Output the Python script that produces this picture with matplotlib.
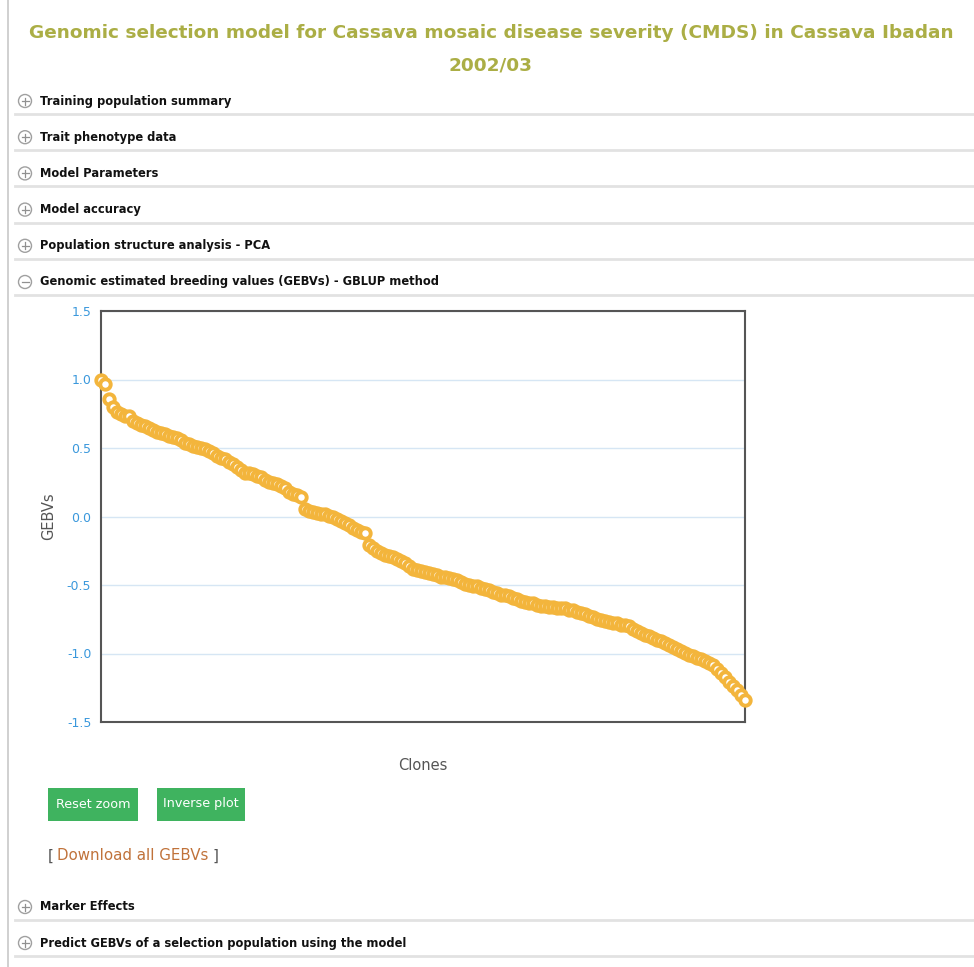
import matplotlib.pyplot as plt
from matplotlib.patches import Circle, Rectangle

# GEBVs per clone, sorted high to low
gebvs = [
    1.00, 0.97, 0.86, 0.80, 0.765, 0.75, 0.735, 0.73, 0.70, 0.685,
    0.67, 0.66, 0.645, 0.63, 0.615, 0.61, 0.60, 0.59, 0.58, 0.57,
    0.555, 0.54, 0.53, 0.515, 0.505, 0.50, 0.49, 0.475, 0.46, 0.445,
    0.43, 0.42, 0.40, 0.38, 0.36, 0.34, 0.32, 0.315, 0.31, 0.295,
    0.285, 0.27, 0.255, 0.245, 0.235, 0.225, 0.205, 0.18, 0.165, 0.155,
    0.14, 0.055, 0.04, 0.03, 0.025, 0.02, 0.015, 0.005, -0.005, -0.015,
    -0.035, -0.05, -0.065, -0.085, -0.10, -0.11, -0.12, -0.21, -0.23, -0.25,
    -0.265, -0.28, -0.29, -0.295, -0.31, -0.325, -0.34, -0.36, -0.38, -0.39,
    -0.40, -0.405, -0.41, -0.42, -0.43, -0.44, -0.445, -0.45, -0.455, -0.465,
    -0.48, -0.49, -0.50, -0.505, -0.51, -0.52, -0.53, -0.54, -0.55, -0.56,
    -0.57, -0.575, -0.58, -0.595, -0.605, -0.615, -0.625, -0.63, -0.635, -0.645,
    -0.65, -0.655, -0.66, -0.66, -0.665, -0.665, -0.67, -0.68, -0.685, -0.695,
    -0.705, -0.715, -0.725, -0.735, -0.745, -0.755, -0.765, -0.77, -0.775, -0.78,
    -0.79, -0.795, -0.80, -0.82, -0.835, -0.85, -0.865, -0.875, -0.89, -0.90,
    -0.91, -0.925, -0.94, -0.955, -0.965, -0.98, -0.995, -1.01, -1.02, -1.03,
    -1.04, -1.055, -1.07, -1.085, -1.11, -1.14, -1.175, -1.21, -1.24, -1.27,
    -1.30, -1.34,
]
y_ticks = [1.5, 1.0, 0.5, 0.0, -0.5, -1.0, -1.5]

title_line1 = "Genomic selection model for Cassava mosaic disease severity (CMDS) in Cassava Ibadan"
title_line2 = "2002/03"
sections_top = [
    "Training population summary",
    "Trait phenotype data",
    "Model Parameters",
    "Model accuracy",
    "Population structure analysis - PCA",
    "Genomic estimated breeding values (GEBVs) - GBLUP method",
]
sections_bottom = ["Marker Effects", "Predict GEBVs of a selection population using the model"]
buttons = ["Reset zoom", "Inverse plot"]

W, H = 974, 967
fig = plt.figure(figsize=(W / 100, H / 100), dpi=100)
fig.patch.set_facecolor("white")

# page layer in pixel coordinates
page = fig.add_axes([0, 0, 1, 1])
page.set_xlim(0, W)
page.set_ylim(H, 0)
page.axis("off")

page.plot([8, 8], [0, H], color="#c8c8c8", lw=1.2)

page.text(491, 33, title_line1, ha="center", va="center", fontsize=13.3,
          fontweight="bold", color="#abae45")
page.text(491, 65, title_line2, ha="center", va="center", fontsize=13.3,
          fontweight="bold", color="#abae45")


def section(y, label, expanded=False):
    page.add_patch(Circle((25, y), 6.5, facecolor="white", edgecolor="#a0a0a0", lw=1.0))
    page.plot([21.5, 28.5], [y, y], color="#909090", lw=0.9)
    if not expanded:
        page.plot([25, 25], [y - 3.5, y + 3.5], color="#909090", lw=0.9)
    page.text(40, y, label, ha="left", va="center", fontsize=8.3,
              fontweight="bold", color="#111111")
    page.plot([15, W], [y + 13, y + 13], color="#e2e2e2", lw=2)


for k, label in enumerate(sections_top):
    section(101 + k * 36.2, label, expanded=(k == len(sections_top) - 1))
for k, label in enumerate(sections_bottom):
    section(907 + k * 36, label)

# buttons
btn_x = [48, 157]
btn_w = [90, 88]
for bx, bw, label in zip(btn_x, btn_w, buttons):
    page.add_patch(Rectangle((bx, 788), bw, 33, facecolor="#3fb35f", edgecolor="none"))
    page.text(bx + bw / 2, 804, label, ha="center", va="center", fontsize=9.2, color="white")

page.text(48, 856, "[", ha="left", va="center", fontsize=10.8, color="#555555")
page.text(57, 856, "Download all GEBVs", ha="left", va="center", fontsize=10.8, color="#c0723a")
page.text(213, 856, "]", ha="left", va="center", fontsize=10.8, color="#555555")

# chart
ax = fig.add_axes([101 / W, 1 - 722 / H, 644 / W, 411 / H])
x = list(range(len(gebvs)))
ax.plot(x, gebvs, linestyle="none", marker="o", markersize=7.5,
        markerfacecolor="white", markeredgecolor="#f3b53c", markeredgewidth=2.8,
        clip_on=False, zorder=3)
ax.set_xlim(0, len(gebvs) - 1)
ax.set_ylim(-1.5, 1.5)
ax.set_yticks(y_ticks)
ax.set_yticklabels([f"{v:.1f}" for v in y_ticks])
ax.set_xticks([])
ax.tick_params(axis="y", length=0, pad=7, labelsize=9, labelcolor="#3a98dc")
ax.grid(axis="y", color="#d6e6f4", lw=1)
ax.set_axisbelow(True)
for s in ax.spines.values():
    s.set_color("#555555")
    s.set_linewidth(1.5)
ax.set_ylabel("GEBVs", fontsize=10.5, color="#555555", labelpad=8)
ax.set_xlabel("Clones", fontsize=10.5, color="#555555", labelpad=26)

fig.savefig("out.png", dpi=100)
